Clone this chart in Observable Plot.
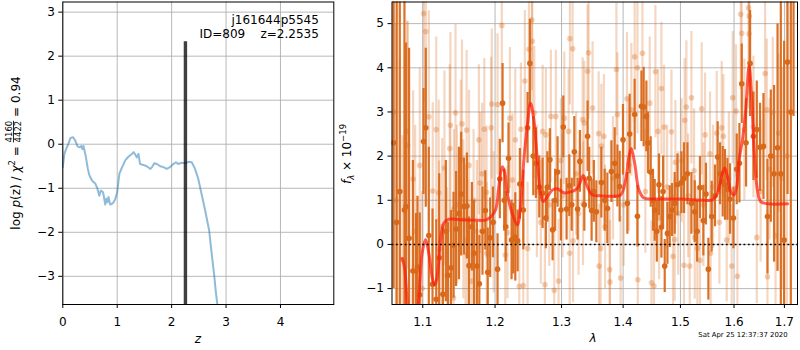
<!DOCTYPE html>
<html><head><meta charset="utf-8">
<script src="https://cdn.jsdelivr.net/npm/d3@7"></script>
<script src="https://cdn.jsdelivr.net/npm/@observablehq/plot@0.6"></script>
<style>
html,body{margin:0;padding:0;background:#fff;}
#wrap{position:relative;width:800px;height:350px;overflow:hidden;font-family:"DejaVu Sans";}
#wrap svg{position:absolute;top:0;overflow:visible;}
#wrap text{white-space:pre;}
</style></head><body><div id="wrap"></div>
<script>
// ---------- left panel: log p(z) ----------
const pzZ = [0,0.03,0.06,0.10,0.14,0.19,0.23,0.27,0.31,0.34,0.36,0.38,0.42,0.46,0.49,0.54,0.60,0.64,0.67,0.70,
  0.74,0.78,0.80,0.82,0.84,0.87,0.92,0.96,1.00,1.04,1.09,1.15,1.21,1.27,1.30,1.33,1.36,1.39,1.42,1.48,
  1.54,1.61,1.64,1.68,1.73,1.79,1.85,1.91,1.97,2.03,2.08,2.12,2.19,2.25,2.31,2.37,2.43,2.49,2.55,2.61,
  2.69,2.73,2.78,2.81,2.84,2.88];
const pzLog = [-0.52,-0.22,-0.11,0.0,0.14,0.16,0.08,-0.05,-0.07,-0.04,-0.11,-0.04,-0.26,-0.56,-0.71,-0.83,-0.90,-1.02,-1.17,-1.05,
  -1.09,-1.37,-1.24,-1.32,-1.20,-1.37,-1.34,-1.26,-1.09,-0.67,-0.52,-0.36,-0.28,-0.22,-0.18,-0.23,-0.30,-0.22,-0.45,-0.47,
  -0.50,-0.56,-0.52,-0.43,-0.45,-0.50,-0.52,-0.56,-0.52,-0.45,-0.41,-0.45,-0.42,-0.43,-0.40,-0.41,-0.56,-0.79,-1.13,-1.47,
  -1.96,-2.42,-2.95,-3.33,-3.64,-4.2];
const bestZ = [2.2535];
const bestZTop = [2.33];
const zTicks = [0,1,2,3,4];
const logpTicks = [-3,-2,-1,0,1,2,3];
const zDomain = [0, 4.98];
const logpDomain = [-3.64, 3.23];
const objName = "j161644p5545";
const objInfo = "ID=809    z=2.2535";

// ---------- right panel: spectrum ----------
const lamTicks = [1.1,1.2,1.3,1.4,1.5,1.6,1.7];
const fluxTicks = [-1,0,1,2,3,4,5];
const lamDomain = [1.060, 1.727];
const fluxDomain = [-1.36, 5.49];

const darkLam = [
  1.062,1.066,1.070,1.076,1.078,1.082,1.087,1.091,1.093,1.096,
  1.101,1.104,1.108,1.113,1.118,1.122,1.127,1.131,1.134,1.138,
  1.1415,1.145,1.149,1.152,1.156,1.160,1.163,1.167,1.170,1.174,
  1.1775,1.182,1.186,1.1895,1.193,1.197,
  1.2036,1.2069,1.2109,1.2133,1.2155,1.2196,1.2241,1.2266,1.2296,1.2330,
  1.2364,1.2415,1.2479,1.2514,1.2565,1.2605,1.2656,1.2707,1.2757,1.2780,
  1.2819,1.2861,1.2900,1.2938,1.2990,1.3027,1.3079,1.3122,1.3160,1.3201,
  1.3254,1.3290,1.3361,1.3414,1.3440,1.3479,1.3515,
  1.3556,1.3638,1.3693,1.3737,1.3804,1.3859,1.3904,1.3942,1.3998,1.4072,
  1.4111,1.4196,1.4243,1.4312,1.4351,1.4398,1.4426,1.4473,1.4513,1.4543,
  1.4580,1.4618,1.4661,1.4690,1.4719,1.4767,1.4808,1.4849,1.4897,1.4946,
  1.5018,1.5065,1.5127,1.5200,1.5261,1.5305,
  1.5357,1.5420,1.5468,1.5513,1.5575,1.5637,1.5688,1.5732,1.5783,1.5827,
  1.5873,1.5923,1.5988,1.6052,1.6104,1.6149,1.6233,1.6312,1.6378,1.6444,
  1.6509,1.6577,1.6657,1.6724,1.6790,1.6860,1.6927,1.6994,1.7064,1.7132,
  1.7188];
const darkFlux = [
  2.3,0.5,1.2,0.78,0.86,0.14,-0.6,-0.6,-0.51,-1.14,
  2.33,2.64,0.2,-0.9,-1.24,-0.3,-1.13,0.3,-0.7,-0.53,
  -0.02,0.35,0.7,1.14,0.86,0.87,-0.48,0.4,-0.2,-0.49,
  -0.89,0.3,0.77,-0.63,0.15,0.5,
  -0.56,1.48,3.2,1.0,0.4,1.95,0.1,0.13,0.17,0.08,
  1.37,0.78,2.64,4.1,2.0,1.84,1.3,1.16,0.6,1.3,
  1.92,0.33,1.0,1.64,0.78,2.66,0.8,1.33,0.9,2.1,
  0.8,1.88,0.9,2.45,1.5,0.77,1.2,
  0.74,1.40,1.0,0.82,1.65,1.84,1.55,1.31,2.37,0.93,
  2.5,2.94,0.64,3.13,3.11,2.9,2.3,1.64,1.0,0.77,
  0.3,1.35,0.39,1.2,-0.49,0.25,0.63,0.78,0.93,1.35,
  1.4,1.5,1.6,0.93,0.74,0.3,
  1.29,0.54,1.14,-0.56,0.63,1.1,1.98,1.6,1.42,1.35,
  1.25,1.03,0.6,1.7,1.84,3.64,2.3,4.1,2.45,2.6,
  2.2,2.22,0.63,2.0,1.6,2.19,1.6,0.1,4.13,3.0,
  6.5];
const darkErr = [
  3.3,6,5,5,3.7,4.3,2.5,1.3,1.6,1.85,
  1.2,1.8,2.0,1.7,1.8,1.9,1.5,1.6,1.2,1.3,
  1.2,1.3,1.5,1.4,1.1,1.2,1.1,1.0,1.2,1.0,
  1.1,1.0,0.9,1.0,0.9,0.8,
  0.8,0.9,0.9,0.7,0.8,0.8,0.9,0.8,1.0,0.7,
  0.8,0.9,0.8,1.0,0.9,0.8,0.7,0.8,0.7,0.8,
  0.7,0.7,0.7,0.8,0.7,0.7,0.7,0.7,0.6,0.8,
  0.7,0.7,0.6,0.8,0.7,0.7,0.7,
  0.7,0.8,0.7,0.8,0.7,0.8,0.7,0.8,0.8,0.7,
  0.9,0.8,0.7,0.8,0.9,0.8,0.7,0.8,0.7,0.7,
  0.7,0.7,0.7,0.8,0.6,0.7,0.7,0.6,0.7,0.7,
  0.7,0.8,0.7,0.7,0.7,0.7,
  0.7,0.8,0.7,0.7,0.8,0.7,0.8,0.7,0.8,0.8,
  0.7,0.8,0.7,0.8,0.9,0.9,1.0,1.2,1.0,1.1,
  1.0,1.2,1.3,1.5,2.0,2.8,5,4.5,3.0,5.5,
  3.6];

const lightLam = [
  1.0620,1.0650,1.0700,1.0734,1.0795,1.0803,1.0873,1.0900,1.0960,1.0992,
  1.1013,1.1040,1.1080,1.1133,1.1180,1.1213,1.1217,1.1260,1.1291,1.1327,
  1.1363,1.1372,1.1415,1.1420,1.1442,1.1461,1.1514,1.1532,1.1550,1.1580,
  1.1596,1.1609,1.1630,1.1667,1.1694,1.1740,1.1768,1.1787,1.1815,1.1846,
  1.1878,1.1880,1.1944,1.1953,1.1980,
  1.2036,1.2098,1.2148,1.2181,1.2216,1.2255,1.2296,1.2355,1.2379,1.2415,
  1.2438,1.2479,1.2500,1.2544,1.2550,1.2580,1.2620,1.2680,1.2707,1.2742,
  1.2757,1.2809,1.2834,1.2886,1.2911,1.2953,1.2990,1.3016,1.3043,1.3111,
  1.3128,1.3132,1.3174,1.3180,1.3230,1.3269,1.3334,1.3340,1.3361,1.3414,
  1.3430,1.3495,
  1.3594,1.3600,1.3626,1.3638,1.3680,1.3700,1.3775,1.3780,1.3830,1.3887,
  1.3904,1.3958,1.4010,1.4065,1.4100,1.4139,1.4196,1.4243,1.4250,1.4329,
  1.4380,1.4456,1.4486,1.4530,1.4555,1.4601,1.4620,1.4661,1.4707,1.4760,
  1.4838,1.4866,1.4897,1.4910,1.4960,1.5020,1.5065,1.5077,1.5108,1.5140,
  1.5169,1.5200,1.5248,1.5261,
  1.5309,1.5357,1.5389,1.5420,1.5451,1.5544,1.5556,1.5600,1.5670,1.5720,
  1.5764,1.5796,1.5859,1.5900,1.5955,1.5974,1.6038,1.6065,1.6129,1.6149,
  1.6200,1.6281,1.6292,1.6297,1.6378,1.6444,1.6520,1.6609,1.6643,1.6657,
  1.6700,1.6764,1.6820,1.6881,1.6950,1.7050];
const lightFlux = [
  3.0,1.0,1.2,-0.34,2.56,2.24,1.48,0.3,1.79,-1.0,
  5.23,4.82,2.89,1.21,2.6,1.17,-0.11,0.4,1.73,-0.71,
  2.17,2.70,-1.21,0.8,2.98,0.9,1.92,2.73,0.57,0.1,
  2.59,-0.23,1.79,-0.83,1.0,0.3,2.37,1.39,1.60,2.61,
  1.18,-0.2,2.64,3.18,0.5,
  3.17,4.96,-0.24,0.27,2.86,1.46,2.37,-0.95,2.61,-0.93,
  3.70,-0.09,4.42,5.08,4.60,2.98,1.2,0.5,2.56,-0.91,
  2.48,0.9,2.90,-1.04,2.90,-0.83,1.9,1.1,2.86,2.56,
  -0.2,4.66,4.43,0.08,1.6,0.70,2.83,0.92,2.75,3.92,
  4.34,3.09,
  2.51,-0.49,-0.09,2.23,2.45,0.4,-0.57,-0.85,1.5,3.96,
  2.94,-0.76,0.9,3.30,1.8,3.05,4.25,4.00,-0.80,4.33,
  1.2,3.20,-0.87,-0.94,3.91,2.56,0.6,3.53,2.66,1.3,
  2.55,-0.27,0.11,1.86,0.7,1.9,-0.47,2.81,3.11,1.1,
  -0.49,3.32,1.67,0.16,
  -0.09,-0.36,3.07,0.9,2.48,2.05,-0.20,1.3,2.52,0.5,
  2.64,2.45,0.10,1.5,-0.49,3.32,3.02,-0.72,5.21,4.78,
  2.6,5.36,4.77,5.17,2.66,0.16,1.2,3.87,3.05,-0.73,
  1.7,2.99,0.2,2.52,1.5,2.0];
const lightErr = [
  4.0,4.0,3.0,2.8,2.5,2.8,2.0,2.4,2.2,2.2,
  2.0,2.2,2.4,2.0,2.1,2.1,2.0,2.0,2.2,2.0,
  1.9,2.1,1.9,1.8,2.0,1.8,1.8,1.9,1.8,1.7,
  1.8,1.7,1.7,1.7,1.6,1.6,1.7,1.6,1.6,1.6,
  1.5,1.6,1.6,1.7,1.6,
  1.6,1.7,1.5,1.5,1.6,1.5,1.6,1.5,1.5,1.5,
  1.6,1.5,1.7,1.6,1.6,1.5,1.5,1.4,1.5,1.4,
  1.5,1.4,1.5,1.4,1.5,1.4,1.4,1.4,1.5,1.4,
  1.4,1.5,1.5,1.4,1.4,1.4,1.4,1.4,1.4,1.5,
  1.5,1.5,
  1.4,1.4,1.4,1.4,1.4,1.4,1.4,1.4,1.4,1.5,
  1.4,1.4,1.4,1.5,1.5,1.5,1.5,1.5,1.4,1.5,
  1.4,1.5,1.4,1.4,1.5,1.4,1.4,1.5,1.4,1.4,
  1.4,1.4,1.4,1.4,1.4,1.4,1.4,1.4,1.5,1.4,
  1.4,1.5,1.4,1.4,
  1.4,1.4,1.5,1.4,1.4,1.4,1.4,1.4,1.4,1.4,
  1.5,1.4,1.4,1.5,1.4,1.5,1.5,1.5,1.7,1.7,
  1.6,1.8,1.7,1.8,1.6,1.5,1.6,1.7,1.6,1.5,
  1.6,1.7,1.8,1.8,2.5,3.5];

const modelLam = [1.0730,1.0760,1.0803,1.0860,1.0934,1.0992,1.1036,1.1080,1.1125,1.1156,
  1.1192,1.1237,1.1282,1.1350,1.1500,1.1700,1.1863,1.1935,1.2007,1.2055,
  1.2104,1.2138,1.2178,1.2251,1.2325,1.2374,1.2424,1.2474,1.2524,1.2574,
  1.2626,1.2676,1.2717,1.2779,1.2856,1.2934,1.3037,1.3142,1.3249,1.3345,
  1.3409,1.3491,1.3626,1.3791,1.3958,1.4043,1.4099,1.4139,1.4196,1.4270,
  1.4356,1.4530,1.5005,1.5432,1.5589,1.5683,1.5778,1.5822,1.5874,1.5950,
  1.6000,1.6052,1.6097,1.6163,1.6227,1.6292,1.6345,1.6391,1.6457,1.6523,
  1.6657,1.7063];
const modelFlux = [-0.32,-0.51,-1.5,-2.3,-1.5,-0.2,0.11,-0.2,-0.74,-0.92,
  -0.74,0.10,0.48,0.57,0.56,0.55,0.55,0.62,0.78,1.31,
  1.76,1.65,1.16,0.70,0.44,0.85,1.92,2.67,3.20,2.82,
  1.92,1.16,0.97,1.08,1.23,1.26,1.17,1.19,1.27,1.56,
  1.31,1.12,1.10,1.09,1.12,1.46,1.99,2.17,1.84,1.23,
  1.05,1.03,1.03,1.00,1.01,1.16,1.61,1.73,1.54,1.16,
  1.12,1.31,1.92,2.37,3.05,4.04,3.28,2.14,1.23,0.97,
  0.92,0.92];
const zeroLevel = [0];
const dateStamp = "Sat Apr 25 12:37:37 2020";

// ---------- build tables ----------
function zip(names, ...cols) {
  const n = cols[0].length;
  cols.forEach((c, i) => { if (c.length !== n) throw new Error("length mismatch " + names[i] + " " + c.length + " vs " + n); });
  return d3.range(n).map(i => Object.fromEntries(names.map((k, j) => [k, cols[j][i]])));
}
const pz = zip(["z","lp"], pzZ, pzLog);
const best = zip(["z","top"], bestZ, bestZTop);
const dark = zip(["lam","f","e"], darkLam, darkFlux, darkErr);
const light = zip(["lam","f","e"], lightLam, lightFlux, lightErr);
const model = zip(["lam","f"], modelLam, modelFlux);

const fmt = d => d < 0 ? "\u2212" + Math.abs(d) : String(d);
const gridStyle = {stroke: "#b0b0b0", strokeOpacity: 1, strokeWidth: 0.9};
const baseStyle = {fontFamily: "DejaVu Sans", fontSize: "12px", background: "transparent", overflow: "visible", color: "black"};
const orange = "#d9691a";

const left = Plot.plot({
  width: 340, height: 350, marginLeft: 62.3, marginRight: 6.7, marginTop: 1.5, marginBottom: 46,
  style: baseStyle,
  x: {domain: zDomain},
  y: {domain: logpDomain},
  marks: [
    Plot.gridX(zTicks, gridStyle),
    Plot.gridY(logpTicks, gridStyle),
    Plot.line(pz, {x: "z", y: "lp", stroke: "#1f77b4", strokeOpacity: 0.5, strokeWidth: 2, clip: true}),
    Plot.ruleX(best, {x: "z", y1: logpDomain[0], y2: "top", stroke: "black", strokeOpacity: 0.75, strokeWidth: 3.4, clip: true}),
    Plot.frame({stroke: "black", strokeWidth: 1}),
    Plot.axisX(zTicks, {tickSize: 4, tickPadding: 8.5, tickFormat: fmt, label: null, fontSize: 12}),
    Plot.axisY(logpTicks, {tickSize: 4, tickPadding: 4, tickFormat: fmt, label: null, fontSize: 12}),
    Plot.text([objName], {text: d => d, frameAnchor: "top-right", dx: -15, dy: 18.5, textAnchor: "end", lineAnchor: "middle", fontSize: 12}),
    Plot.text([objInfo], {text: d => d, frameAnchor: "top-right", dx: -15, dy: 32.5, textAnchor: "end", lineAnchor: "middle", fontSize: 12})
  ]
});

const right = Plot.plot({
  width: 470, height: 350, marginLeft: 61.5, marginRight: 3, marginTop: 1.5, marginBottom: 46,
  style: baseStyle,
  x: {type: "log", domain: lamDomain},
  y: {domain: fluxDomain},
  marks: [
    Plot.gridX(lamTicks, gridStyle),
    Plot.gridY(fluxTicks, gridStyle),
    Plot.ruleX(light, {x: "lam", y1: d => d.f - d.e, y2: d => d.f + d.e, stroke: orange, strokeOpacity: 0.27, strokeWidth: 2.2, clip: true}),
    Plot.dot(light, {x: "lam", y: "f", r: 2.8, fill: orange, fillOpacity: 0.32, clip: true}),
    Plot.ruleX(dark, {x: "lam", y1: d => d.f - d.e, y2: d => d.f + d.e, stroke: orange, strokeOpacity: 0.95, strokeWidth: 2.2, clip: true}),
    Plot.dot(dark, {x: "lam", y: "f", r: 2.8, fill: orange, clip: true}),
    Plot.line(model, {x: "lam", y: "f", curve: "catmull-rom", stroke: "#ff1a0a", strokeOpacity: 0.7, strokeWidth: 3, clip: true}),
    Plot.ruleY(zeroLevel, {stroke: "black", strokeWidth: 1.6, strokeDasharray: "1.8,2.6"}),
    Plot.frame({stroke: "black", strokeWidth: 1}),
    Plot.axisX(lamTicks, {tickSize: 4, tickPadding: 8.5, tickFormat: d => d.toFixed(1), label: null, fontSize: 12}),
    Plot.axisY(fluxTicks, {tickSize: 4, tickPadding: 4, tickFormat: fmt, label: null, fontSize: 12})
  ]
});

const wrap = document.getElementById("wrap");
left.style.left = "0px";
right.style.left = "330px";
wrap.appendChild(left);
wrap.appendChild(right);

// rotated label built from flowing tspans (one text chunk, centred)
function rotLabel(svgEl, bx, cy, pieces) {
  const t = d3.select(svgEl).append("text")
    .attr("transform", `translate(${bx},${cy}) rotate(-90)`)
    .attr("text-anchor", "middle")
    .attr("font-family", "DejaVu Sans").attr("font-size", 12).attr("fill", "black");
  for (const p of pieces) {
    const s = t.append("tspan").text(p.text);
    if (p.size) s.attr("font-size", p.size);
    if (p.italic) s.attr("font-style", "italic");
    if (p.dx) s.attr("dx", p.dx);
    if (p.dy) s.attr("dy", p.dy);
    if (p.underline) s.attr("text-decoration", "underline");
  }
}

// fraction digits are all 0.636 em wide in DejaVu Sans: 4 digits at 8.5px
const fracW = 4 * 0.636 * 8.5;
rotLabel(left, 19.5, 153, [
  {text: "log\u00a0"}, {text: "p", italic: true}, {text: "(z)\u00a0/\u00a0"},
  {text: "\u03c7", italic: true}, {text: "2", size: 8.5, dy: -5},
  {text: "\u00a0=\u00a0", dy: 5},
  {text: "4160", size: 8.5, dy: -7.5, underline: true},
  {text: "4422", size: 8.5, dx: -fracW, dy: 8.5},
  {text: "\u00a0=\u00a00.94", dy: -1}
]);
rotLabel(right, 20.5, 154, [
  {text: "f", italic: true}, {text: "\u03bb", italic: true, size: 8.5, dy: 3},
  {text: "\u00a0\u00d7\u00a010", dy: -3}, {text: "\u221219", size: 8.5, dy: -5}
]);

d3.select(left).append("text").attr("x", 197.8).attr("y", 343).attr("text-anchor", "middle")
  .attr("font-family", "DejaVu Sans").attr("font-size", 12).attr("font-style", "italic").text("z");
d3.select(right).append("text").attr("x", 263).attr("y", 342).attr("text-anchor", "middle")
  .attr("font-family", "DejaVu Sans").attr("font-size", 12).attr("font-style", "italic").text("\u03bb");
d3.select(right).append("text").attr("x", 368.3).attr("y", 337).attr("text-anchor", "start")
  .attr("font-family", "DejaVu Sans").attr("font-size", 6.9).text(dateStamp);
</script></body></html>
